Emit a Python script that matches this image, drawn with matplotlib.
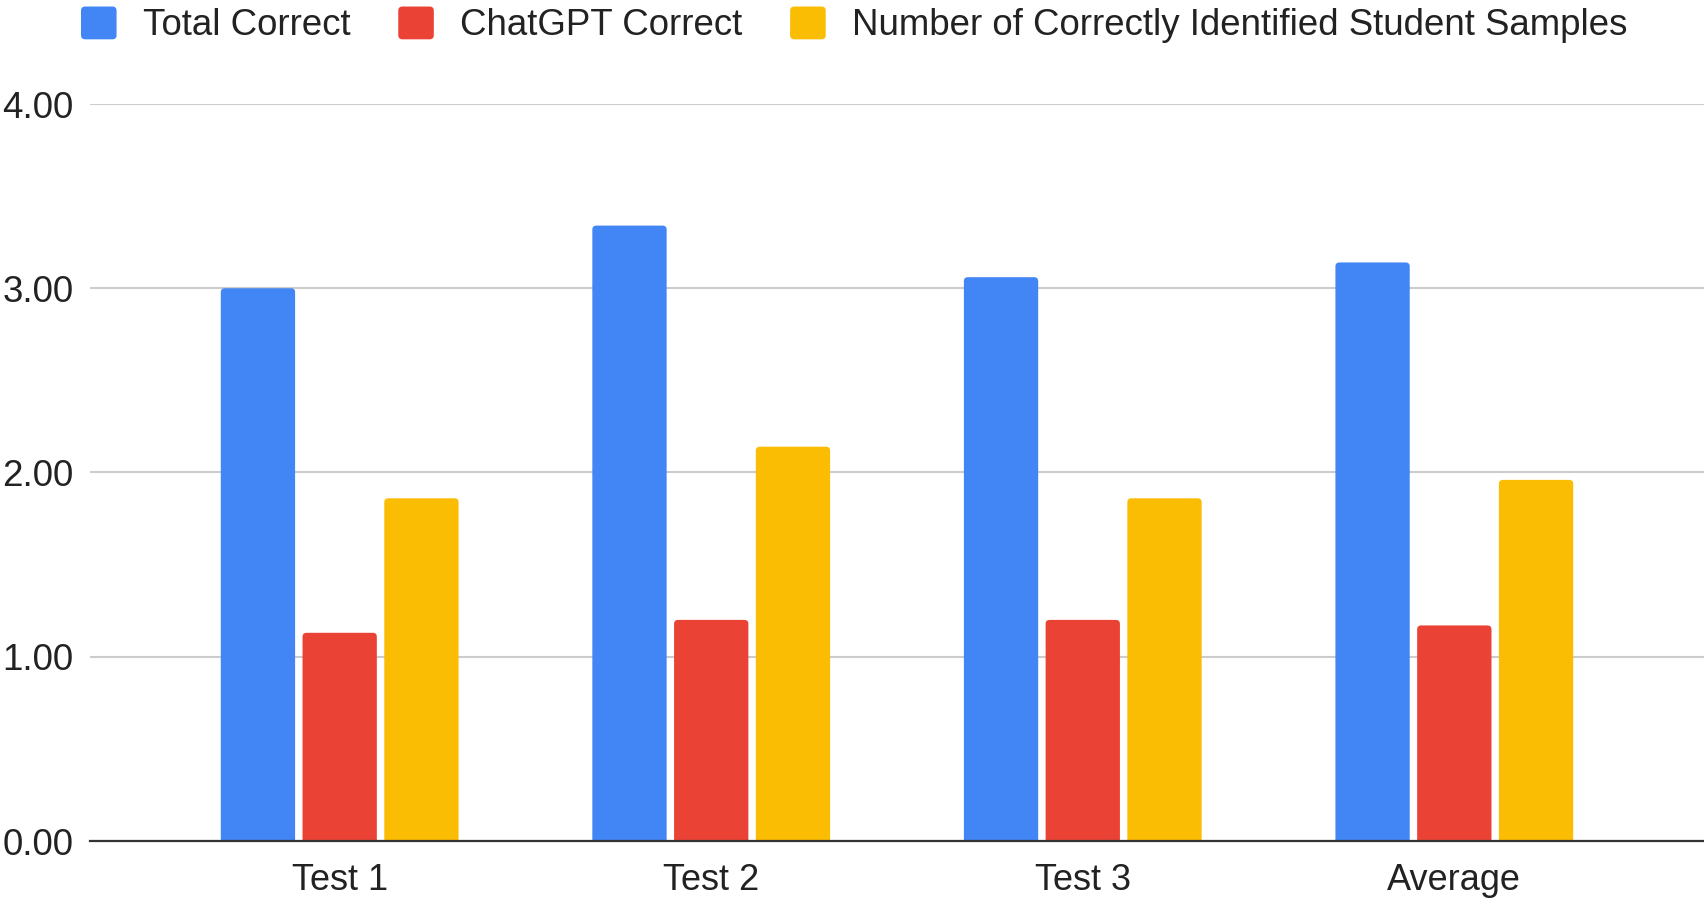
import matplotlib
matplotlib.use("Agg")
import matplotlib.pyplot as plt
from matplotlib.patches import FancyBboxPatch, Patch
from matplotlib.legend_handler import HandlerPatch
from matplotlib.ticker import FormatStrFormatter

plt.rcParams['font.family'] = ['Liberation Sans', 'DejaVu Sans']

categories = ["Test 1", "Test 2", "Test 3", "Average"]
total_correct = [3.00, 3.34, 3.06, 3.14]
chatgpt_correct = [1.13, 1.20, 1.20, 1.17]
student_samples = [1.86, 2.14, 1.86, 1.96]
series_names = ["Total Correct", "ChatGPT Correct",
                "Number of Correctly Identified Student Samples"]
colors = ["#4285F4", "#EA4335", "#FBBC04"]
y_ticks = [0, 1, 2, 3, 4]

W, H = 1704, 905
fig = plt.figure(figsize=(W / 100, H / 100), dpi=100)
ax = fig.add_axes([90 / W, 1 - 841 / H, 1 - 90 / W, (841 - 104) / H])

xlim = (-0.672, 3.672)
ylim = (0, 4)
ax.set_xlim(*xlim)
ax.set_ylim(*ylim)

bar_w = 0.2
offsets = [-0.22, 0.0, 0.22]
all_series = [total_correct, chatgpt_correct, student_samples]

# data units per pixel
ax_w_px = W - 90
ax_h_px = 841 - 104
xu = (xlim[1] - xlim[0]) / ax_w_px
yu = (ylim[1] - ylim[0]) / ax_h_px
r_px = 4
for s, vals in enumerate(all_series):
    bars = ax.bar([i + offsets[s] for i in range(len(categories))], vals,
                  width=bar_w, color=colors[s], zorder=3)
    for b in bars:
        b.set_visible(False)
        x0, w, h = b.get_x(), b.get_width(), b.get_height()
        p = FancyBboxPatch((x0, -r_px * yu * 2), w, h + r_px * yu * 2,
                           boxstyle=f"round,pad=0,rounding_size={r_px * xu}",
                           mutation_aspect=yu / xu,
                           facecolor=colors[s], edgecolor='none', zorder=3)
        ax.add_patch(p)

ax.set_yticks(y_ticks)
ax.yaxis.set_major_formatter(FormatStrFormatter('%.2f'))
ax.set_xticks(range(len(categories)))
ax.set_xticklabels(categories)
ax.grid(axis='y', color='#cccccc', linewidth=1.5, zorder=0)
ax.axhline(0, color='#333333', linewidth=1.6, zorder=4, clip_on=False)
for sp in ax.spines.values():
    sp.set_visible(False)
ax.tick_params(axis='both', length=0, colors='#222222')
ax.tick_params(axis='x', pad=16, labelsize=26)
ax.tick_params(axis='y', pad=12, labelsize=26.5)


class RoundHandler(HandlerPatch):
    def create_artists(self, legend, orig_handle, xdescent, ydescent,
                       width, height, fontsize, trans):
        p = FancyBboxPatch((-xdescent, -ydescent), width, height,
                           boxstyle="round,pad=0,rounding_size=3",
                           facecolor=orig_handle.get_facecolor(),
                           edgecolor='none', transform=trans)
        return [p]


handles = [Patch(facecolor=c) for c in colors]
leg = fig.legend(handles, series_names, loc='center left',
                 bbox_to_anchor=(81 / W, 1 - 25 / H), ncol=3, frameon=False,
                 fontsize=26.4, handlelength=0.97, handleheight=1.0,
                 handletextpad=0.71, columnspacing=1.31, borderpad=0,
                 borderaxespad=0,
                 handler_map={Patch: RoundHandler()})
for t in leg.get_texts():
    t.set_color('#222222')

fig.savefig("out.png", dpi=100, facecolor='white')
